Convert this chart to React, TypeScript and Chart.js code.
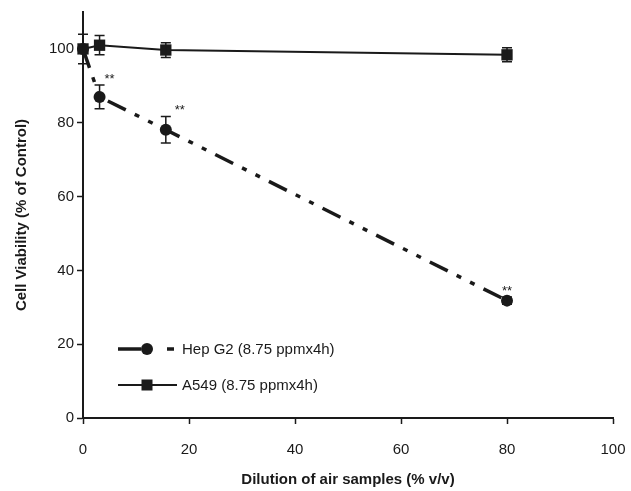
import React, { useEffect, useRef } from "react";
import { Chart, registerables } from "chart.js";

Chart.register(...registerables);

const dilution = [0, 3.125, 15.625, 80];
const hepG2 = [100, 87.0, 78.1, 31.8];
const hepG2Err = [0, 3.2, 3.6, 1.0];
const a549 = [100, 101.0, 99.7, 98.4];
const a549Err = [4.0, 2.6, 2.0, 1.9];
const hepStars = ["", "**", "**", "**"];
const xTicks = [0, 20, 40, 60, 80, 100];
const yTicks = [0, 20, 40, 60, 80, 100];
const seriesNames = ["Hep G2 (8.75 ppmx4h)", "A549 (8.75 ppmx4h)"];

const FONT = "'Liberation Sans', Arial, sans-serif";
const INK = "#1a1a1a";
const HEP_DASH = [20, 10, 5, 10, 5, 10];

export default function App() {
  const ref = useRef<HTMLCanvasElement | null>(null);
  useEffect(() => {
    if (!ref.current) return;
    const errs = [hepG2Err, a549Err];
    const overlay = {
      id: "overlay",
      afterDatasetsDraw(chart: any) {
        const ctx = chart.ctx;
        const xs = chart.scales.x;
        const ys = chart.scales.y;
        ctx.save();
        ctx.strokeStyle = INK;
        ctx.lineWidth = 1.5;
        [hepG2, a549].forEach((vals, di) => {
          vals.forEach((v, i) => {
            const e = errs[di][i];
            if (!e) return;
            const px = xs.getPixelForValue(dilution[i]);
            const t = ys.getPixelForValue(v + e);
            const b = ys.getPixelForValue(v - e);
            ctx.beginPath();
            ctx.moveTo(px, t);
            ctx.lineTo(px, b);
            ctx.moveTo(px - 5, t);
            ctx.lineTo(px + 5, t);
            ctx.moveTo(px - 5, b);
            ctx.lineTo(px + 5, b);
            ctx.stroke();
          });
        });
        const starDx = [0, 10, 14, 0];
        ctx.fillStyle = INK;
        ctx.font = `13px ${FONT}`;
        ctx.textAlign = "center";
        ctx.textBaseline = "middle";
        hepStars.forEach((s, i) => {
          if (!s) return;
          const px = xs.getPixelForValue(dilution[i]) + starDx[i];
          const t = ys.getPixelForValue(hepG2[i] + hepG2Err[i]);
          ctx.fillText(s, px, t - 6);
        });
        const lx0 = 118, lx1 = 177, mx = 147, tx = 182;
        const rows = [349, 385];
        ctx.lineWidth = 3.5;
        ctx.beginPath();
        ctx.moveTo(lx0, rows[0]);
        ctx.lineTo(141, rows[0]);
        ctx.moveTo(167, rows[0]);
        ctx.lineTo(174, rows[0]);
        ctx.stroke();
        ctx.beginPath();
        ctx.arc(mx, rows[0], 6, 0, Math.PI * 2);
        ctx.fill();
        ctx.lineWidth = 2;
        ctx.beginPath();
        ctx.moveTo(lx0, rows[1]);
        ctx.lineTo(lx1, rows[1]);
        ctx.stroke();
        ctx.fillRect(mx - 5.5, rows[1] - 5.5, 11, 11);
        ctx.font = `15px ${FONT}`;
        ctx.textAlign = "left";
        ctx.textBaseline = "middle";
        ctx.fillText(seriesNames[0], tx, rows[0] + 1);
        ctx.fillText(seriesNames[1], tx, rows[1] + 1);
        ctx.restore();
      },
    };
    const chart = new Chart(ref.current, {
      type: "line",
      data: {
        datasets: [
          {
            label: seriesNames[0],
            data: dilution.map((x, i) => ({ x, y: hepG2[i] })),
            borderColor: INK,
            backgroundColor: INK,
            borderWidth: 3.5,
            borderDash: HEP_DASH,
            pointStyle: "circle",
            pointRadius: 6,
            pointBorderWidth: 0,
            clip: false,
            order: 1,
          },
          {
            label: seriesNames[1],
            data: dilution.map((x, i) => ({ x, y: a549[i] })),
            borderColor: INK,
            backgroundColor: INK,
            borderWidth: 2,
            pointStyle: "rect",
            pointRadius: 8,
            pointBorderWidth: 0,
            clip: false,
            order: 0,
          },
        ],
      },
      options: {
        animation: false,
        responsive: false,
        layout: { padding: { top: 9, right: 18, left: 0, bottom: 0 } },
        plugins: { legend: { display: false }, tooltip: { enabled: false } },
        scales: {
          x: {
            type: "linear",
            min: 0,
            max: 100,
            afterBuildTicks: (s: any) => {
              s.ticks = xTicks.map((v) => ({ value: v }));
            },
            afterFit: (s: any) => {
              s.height = 73;
              s.paddingLeft = 0;
              s.paddingRight = 0;
            },
            grid: { drawOnChartArea: false, tickLength: 6, color: INK, tickWidth: 1.5 },
            border: { display: true, color: INK, width: 2 },
            ticks: { color: INK, font: { family: FONT, size: 15 }, padding: 17, maxRotation: 0 },
            title: {
              display: true,
              text: "Dilution of air samples (% v/v)",
              color: INK,
              font: { family: FONT, size: 15, weight: "bold" },
              padding: { top: 0, bottom: 2 },
            },
          },
          y: {
            type: "linear",
            min: 0,
            max: 110,
            afterBuildTicks: (s: any) => {
              s.ticks = yTicks.map((v) => ({ value: v }));
            },
            afterFit: (s: any) => {
              s.width = 83;
            },
            grid: { drawOnChartArea: false, tickLength: 6, color: INK, tickWidth: 1.5 },
            border: { display: true, color: INK, width: 2 },
            ticks: { color: INK, font: { family: FONT, size: 15 }, padding: 3 },
            title: {
              display: true,
              text: "Cell Viability (% of Control)",
              color: INK,
              font: { family: FONT, size: 15, weight: "bold" },
              padding: { top: 13, bottom: 0 },
            },
          },
        },
      },
      plugins: [overlay],
    } as any);
    return () => chart.destroy();
  }, []);
  return (
    <div style={{ position: "fixed", left: 0, top: 0, width: 631, height: 491, background: "#fff" }}>
      <canvas ref={ref} width={631} height={491} style={{ width: 631, height: 491 }} />
    </div>
  );
}
